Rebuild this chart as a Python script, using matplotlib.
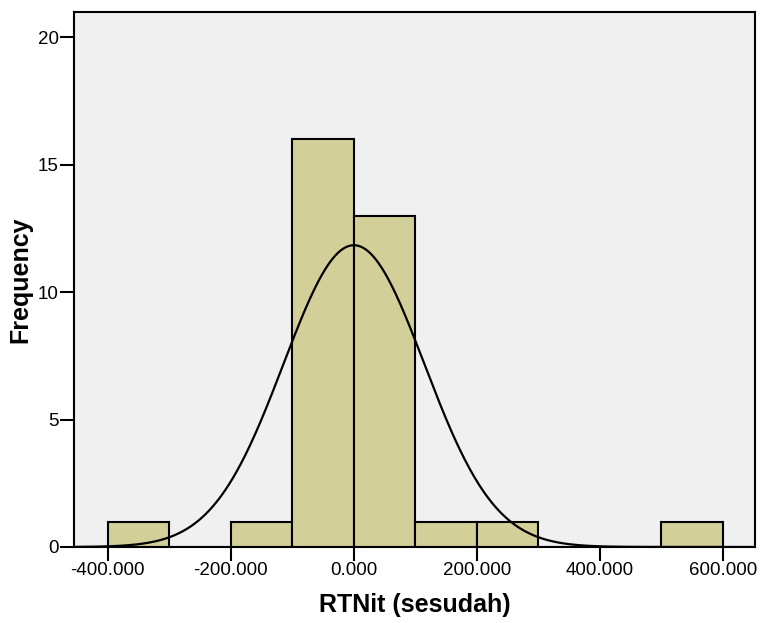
import numpy as np
import matplotlib
matplotlib.use('Agg')
import matplotlib.pyplot as plt
from matplotlib.ticker import FormatStrFormatter

plt.rcParams['font.family'] = ['Liberation Sans', 'DejaVu Sans']

# histogram bins (left edges) and counts
bin_left = [-400, -300, -200, -100, 0, 100, 200, 300, 400, 500]
counts = [1, 0, 1, 16, 13, 1, 1, 0, 0, 1]
bin_width = 100

# normal curve parameters
mean = 0.0
std_dev = 114.5
n_total = sum(counts)

fig = plt.figure(figsize=(7.6, 6.23), dpi=100)
ax = fig.add_axes([0.0974, 0.122, 0.8960, 0.8587])
ax.set_facecolor('#F0F0F0')

ax.bar(bin_left, counts, width=bin_width, align='edge', color='#D3CF99',
       edgecolor='black', linewidth=1.5, zorder=2)

xs = np.linspace(-455, 652, 600)
ys = n_total * bin_width / (std_dev * np.sqrt(2 * np.pi)) * np.exp(-0.5 * ((xs - mean) / std_dev) ** 2)
ax.plot(xs, ys, color='black', linewidth=1.6, zorder=3)

ax.set_xlim(-455, 652)
ax.set_ylim(0, 21)
ax.set_xticks([-400, -200, 0, 200, 400, 600])
ax.set_yticks([0, 5, 10, 15, 20])
ax.xaxis.set_major_formatter(FormatStrFormatter('%.3f'))
ax.tick_params(axis='both', direction='out', length=10, width=1.5, labelsize=13.5, pad=1)

for sp in ax.spines.values():
    sp.set_linewidth(1.5)

ax.set_xlabel('RTNit (sesudah)', fontsize=18, fontweight='bold', labelpad=10)
ax.set_ylabel('Frequency', fontsize=18, fontweight='bold')
ax.yaxis.set_label_coords(-0.061, 0.5)

fig.savefig('out.png', dpi=100)
